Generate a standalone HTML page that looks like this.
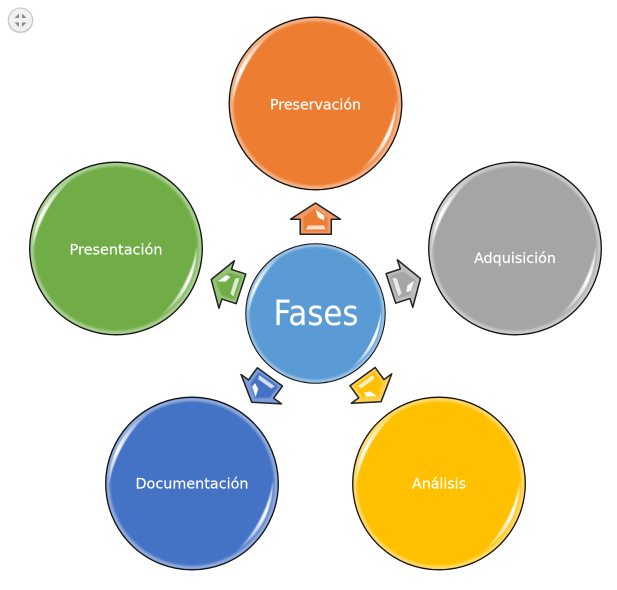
<!DOCTYPE html>
<html>
<head>
<meta charset="utf-8">
<style>
html,body{margin:0;padding:0;background:#fff;width:617px;height:590px;overflow:hidden}
svg{display:block}
text{font-family:"DejaVu Sans","Liberation Sans",sans-serif;fill:#fff;text-anchor:middle;stroke:#fff;stroke-width:.15}
</style>
</head>
<body>
<svg width="617" height="590" viewBox="0 0 617 590" xmlns="http://www.w3.org/2000/svg">
<defs>
  <filter id="b1" x="-20%" y="-20%" width="140%" height="140%"><feGaussianBlur stdDeviation="0.5"/></filter>
  <filter id="b2" x="-20%" y="-20%" width="140%" height="140%"><feGaussianBlur stdDeviation="1.2"/></filter>
  <filter id="b3" x="-30%" y="-30%" width="160%" height="160%"><feGaussianBlur stdDeviation="0.35"/></filter>
  <linearGradient id="hl" gradientUnits="userSpaceOnUse" x1="-83" y1="0" x2="-42" y2="-71">
    <stop offset="0" stop-color="#fff" stop-opacity=".6"/>
    <stop offset=".42" stop-color="#fff" stop-opacity="1"/>
    <stop offset=".7" stop-color="#fff" stop-opacity=".65"/>
    <stop offset="1" stop-color="#fff" stop-opacity=".15"/>
  </linearGradient>
  <g id="rim">
    <circle r="84.3" fill="none" stroke="#fff" stroke-opacity=".5" stroke-width="3.2" filter="url(#b2)"/>
    <path d="M-83 0A83 83 0 0 1 -42 -71.5A125 125 0 0 0 -83 0Z" fill="url(#hl)" filter="url(#b1)"/>
    <path d="M-83 0A83 83 0 0 1 -42 -71.5A125 125 0 0 0 -83 0Z" fill="url(#hl)" filter="url(#b1)" transform="rotate(178) scale(.975)"/>
    <circle r="86.3" fill="none" stroke="#111" stroke-width="1.3"/>
  </g>
  <g id="arrow">
    <path d="M315.5 203L290.5 219.2H300.2V234.2H331.3V219.2H340.5L315.5 203Z" stroke="#222" stroke-width="1.5" stroke-linejoin="round"/>
    <path d="M315.5 208L303.5 217.5V231.5H327.5V217.5Z" fill="currentColor" filter="url(#b1)"/>
    <path d="M315.5 209.5L324.5 216L324 220.5L318 217.5Z" fill="#fff" fill-opacity=".95" filter="url(#b3)"/>
    <path d="M306 229.5L308 225.5H324L325.5 229.5Z" fill="#fff" fill-opacity=".75" filter="url(#b3)"/>
  </g>
</defs>

<!-- zoom button -->
<circle cx="20.5" cy="20.5" r="13" fill="#d9d9d9"/>
<circle cx="20.5" cy="20" r="12" fill="#f1f1f1" stroke="#c8c8c8" stroke-width="1"/>
<g fill="#8a8a8a">
  <path d="M14.5 18L19 18L19 13.5Z"/>
  <path d="M26.5 18L22 18L22 13.5Z"/>
  <path d="M14.5 22.5L19 22.5L19 27Z"/>
  <path d="M26.5 22.5L22 22.5L22 27Z"/>
</g>

<!-- arrows -->
<use href="#arrow" fill="#f09a68" color="#ed7d31"/>
<use href="#arrow" fill="#bdbdbd" color="#a5a5a5" transform="rotate(72 316 313)"/>
<use href="#arrow" fill="#ffcf4d" color="#ffc000" transform="rotate(144 316 313)"/>
<use href="#arrow" fill="#7c9cd8" color="#4472c4" transform="rotate(216 316 313)"/>
<use href="#arrow" fill="#94c277" color="#70ad47" transform="rotate(288 316 313)"/>

<!-- outer circles -->
<g transform="translate(315.5 103.5)"><circle r="86" fill="#ed7d31"/><use href="#rim"/></g>
<g transform="translate(515 248.5)"><circle r="86" fill="#a5a5a5"/><use href="#rim"/></g>
<g transform="translate(439 483.5)"><circle r="86" fill="#ffc000"/><use href="#rim"/></g>
<g transform="translate(192 483.5)"><circle r="86" fill="#4472c4"/><use href="#rim"/></g>
<g transform="translate(116 248.5)"><circle r="86" fill="#70ad47"/><use href="#rim"/></g>

<!-- center circle -->
<g transform="translate(315.5 313.5) scale(.808)"><circle r="86" fill="#5b9bd5"/><use href="#rim"/></g>

<!-- labels -->
<text x="315.5" y="109.5" font-size="14" textLength="91" lengthAdjust="spacingAndGlyphs">Preservación</text>
<text x="515" y="263" font-size="14" textLength="82" lengthAdjust="spacingAndGlyphs">Adquisición</text>
<text x="439" y="488.5" font-size="14" textLength="54" lengthAdjust="spacingAndGlyphs">Análisis</text>
<text x="192" y="488.5" font-size="14" textLength="113" lengthAdjust="spacingAndGlyphs">Documentación</text>
<text x="116" y="254.5" font-size="14" textLength="93" lengthAdjust="spacingAndGlyphs">Presentación</text>
<text x="316" y="325" font-size="35" textLength="85" lengthAdjust="spacingAndGlyphs">Fases</text>
</svg>
</body>
</html>
